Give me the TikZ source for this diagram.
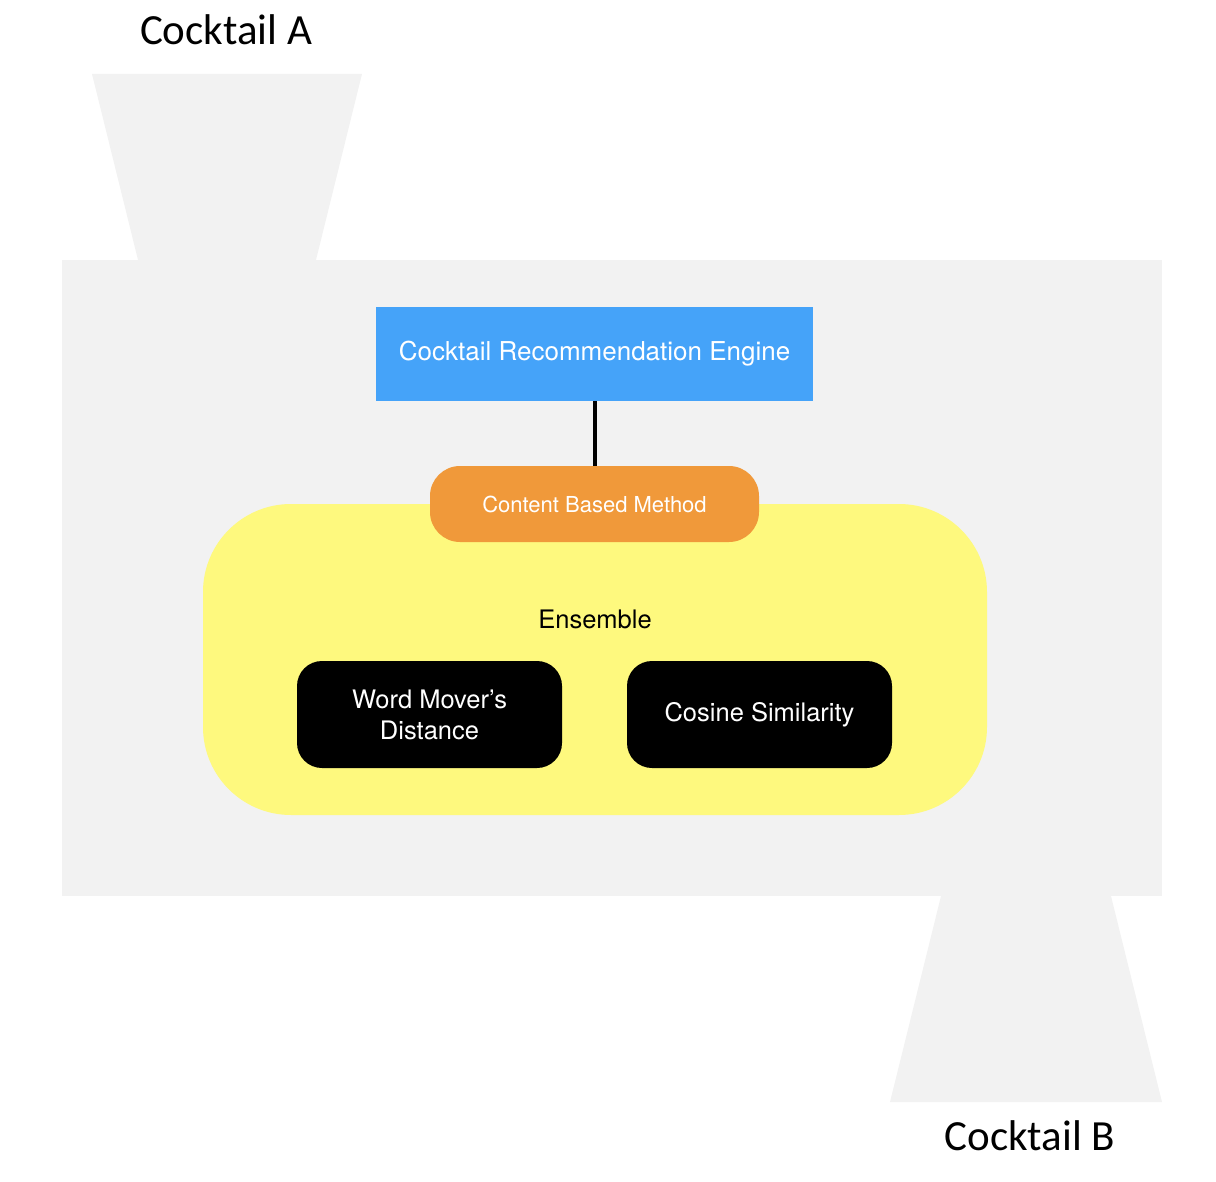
\documentclass[tikz,border=0pt]{standalone}
\usepackage{fontspec}
\setmainfont{TeX Gyre Heros}
\newfontfamily\cocktailfont{Carlito}
\usepackage{tikz}
\usetikzlibrary{calc}

\definecolor{glassgray}{HTML}{F2F2F2}
\definecolor{engineblue}{HTML}{45A3F9}
\definecolor{methodorange}{HTML}{F0993A}
\definecolor{ensembleyellow}{HTML}{FEF97E}

\begin{document}
\begin{tikzpicture}[
    x=1pt, y=-1pt,
    engine/.style={fill=engineblue, text=white, inner sep=0pt,
        minimum width=437pt, minimum height=94pt,
        font=\fontsize{26}{31}\selectfont},
    method/.style={fill=methodorange, text=white, inner sep=0pt,
        rounded corners=30pt, minimum width=329pt, minimum height=76pt,
        font=\fontsize{22}{26}\selectfont},
    ensemble/.style={fill=ensembleyellow, inner sep=0pt,
        rounded corners=88pt, minimum width=784pt, minimum height=311pt},
    model/.style={fill=black, text=white, inner sep=0pt, align=center,
        rounded corners=25pt, minimum width=265pt, minimum height=107pt,
        font=\fontsize{25.5}{31}\selectfont},
    cocktail/.style={font=\cocktailfont\fontsize{43}{50}\selectfont}]

    \useasboundingbox (0,0) rectangle (1216,1182);

    % glasses
    \fill[glassgray] (92,74) -- (362,74) -- (316,260) -- (138,260) -- cycle;
    \fill[glassgray] (62,260) rectangle (1162,896);
    \fill[glassgray] (941,896) -- (1111,896) -- (1162,1102) -- (890,1102) -- cycle;

    \node[cocktail] (cocktailA) at (226,30) {Cocktail A};
    \node[cocktail] (cocktailB) at (1030,1136) {Cocktail B};

    % ensemble
    \node[ensemble] (ens) at (595,659.5) {};
    \node[font=\fontsize{25.5}{31}\selectfont] (enslabel) at (595,619) {Ensemble};
    \node[model] (wmd) at (429.5,714.5) {Word Mover’s\\Distance};
    \node[model] (cosine) at (759.5,714.5) {Cosine Similarity};

    % engine and method
    \node[engine] (engine) at (594.5,354) {Cocktail Recommendation Engine};
    \node[method] (method) at (594.5,504) {Content Based Method};
    \draw[line width=4pt] (engine.south) -- (method.north);

\end{tikzpicture}
\end{document}
